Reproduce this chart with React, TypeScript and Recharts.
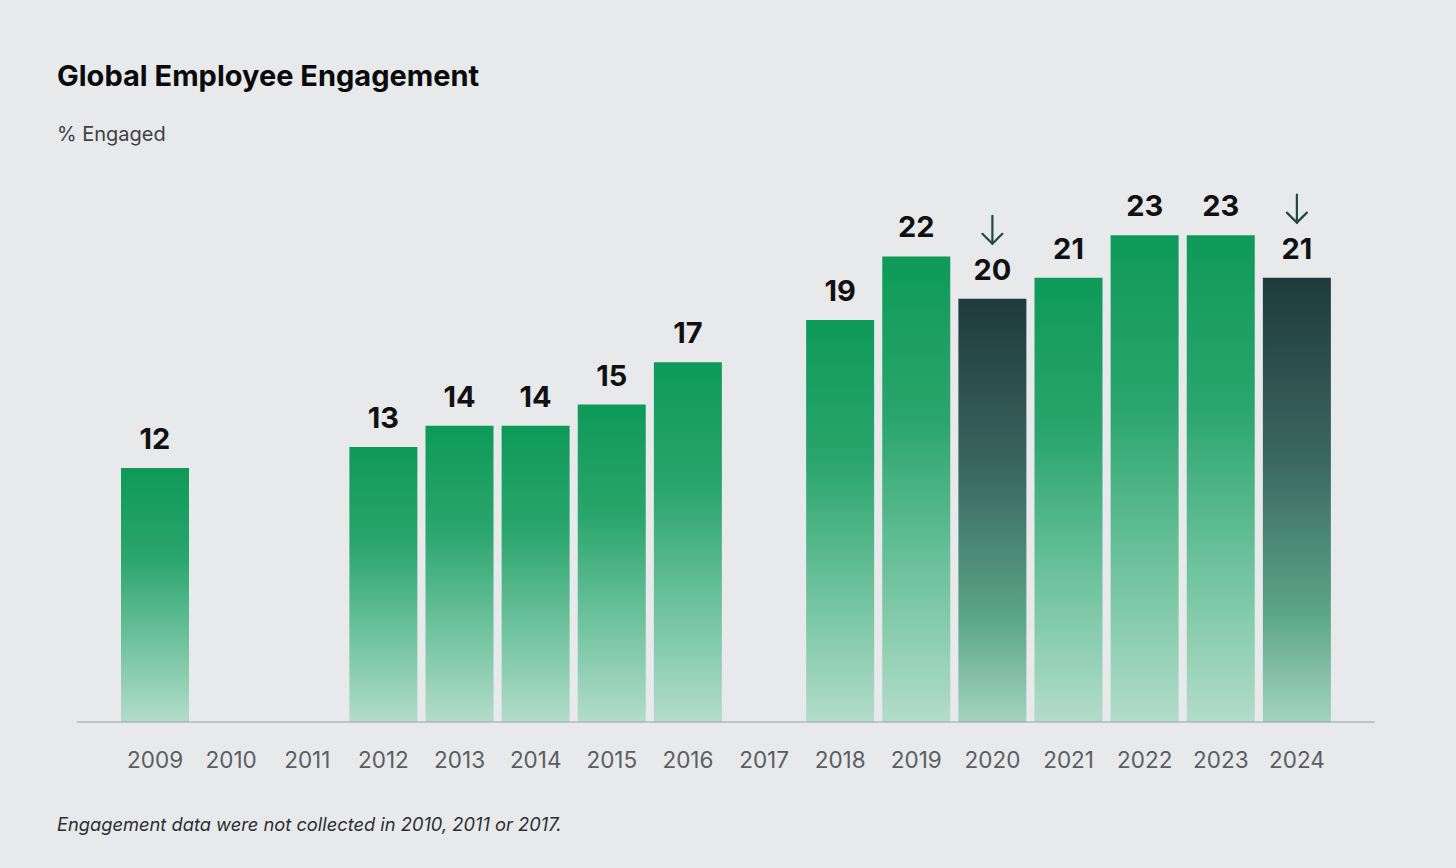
import React from "react";
import { BarChart, Bar, XAxis, YAxis, Cell, LabelList } from "recharts";

const years = [
  "2009", "2010", "2011", "2012", "2013", "2014", "2015", "2016",
  "2017", "2018", "2019", "2020", "2021", "2022", "2023", "2024",
];
const engaged: (number | null)[] = [
  12, null, null, 13, 14, 14, 15, 17, null, 19, 22, 20, 21, 23, 23, 21,
];
const declineYears = ["2020", "2024"];

const data = years.map((year, i) => ({
  year,
  engaged: engaged[i],
  arrow: declineYears.includes(year) ? engaged[i] : null,
}));

const FONT = "Inter, 'Noto Sans', sans-serif";

const YearTick = (props: any) => {
  const { x, y, payload } = props;
  return (
    <text
      x={x}
      y={y + 40}
      textAnchor="middle"
      dominantBaseline="middle"
      fill="#5a5e62"
      fontSize={22.5}
      fontFamily={FONT}
    >
      {payload.value}
    </text>
  );
};

const ValueLabel = (props: any) => {
  const { x, y, width, value } = props;
  if (value == null) return null;
  return (
    <text
      x={x + width / 2}
      y={y - 27}
      textAnchor="middle"
      dominantBaseline="middle"
      fill="#111"
      fontSize={29}
      fontWeight={700}
      fontFamily={FONT}
    >
      {value}
    </text>
  );
};

const DownArrow = (props: any) => {
  const { x, y, width, value } = props;
  if (value == null) return null;
  const cx = x + width / 2;
  return (
    <g stroke="#1f4a3e" strokeWidth={2.2} fill="none" strokeLinecap="round">
      <line x1={cx} y1={y - 83} x2={cx} y2={y - 55} />
      <polyline points={`${cx - 10},${y - 65} ${cx},${y - 55} ${cx + 10},${y - 65}`} />
    </g>
  );
};

export default function App() {
  return (
    <div
      style={{
        position: "absolute",
        left: 0,
        top: 0,
        width: 1456,
        height: 868,
        background: "#e8e9eb",
        fontFamily: FONT,
        overflow: "hidden",
      }}
    >
      <div
        style={{
          position: "absolute",
          left: 57,
          top: 58,
          fontSize: 29,
          fontWeight: 700,
          color: "#0a0a0a",
        }}
      >
        Global Employee Engagement
      </div>
      <div
        style={{
          position: "absolute",
          left: 57,
          top: 122,
          fontSize: 20,
          color: "#3d4145",
        }}
      >
        % Engaged
      </div>
      <div style={{ position: "absolute", left: 0, top: 0 }}>
        <BarChart
          width={1456}
          height={868}
          data={data}
          margin={{ top: 193, right: 81, bottom: 116, left: 77 }}
          barSize={68}
        >
          <defs>
            <linearGradient id="greenFill" x1="0" y1="0" x2="0" y2="1">
              <stop offset="0%" stopColor="#0e9a58" />
              <stop offset="35%" stopColor="#2aa56d" />
              <stop offset="70%" stopColor="#72c4a0" />
              <stop offset="100%" stopColor="#b3dccb" />
            </linearGradient>
            <linearGradient id="darkFill" x1="0" y1="0" x2="0" y2="1">
              <stop offset="0%" stopColor="#1f3a3b" />
              <stop offset="40%" stopColor="#3a6660" />
              <stop offset="75%" stopColor="#5aa587" />
              <stop offset="100%" stopColor="#a3d3be" />
            </linearGradient>
          </defs>
          <YAxis hide domain={[0, 25]} />
          <XAxis
            dataKey="year"
            padding={{ left: 40, right: 40 }}
            axisLine={{ stroke: "#9a9ea2", strokeWidth: 1.2 }}
            tickLine={false}
            tickSize={0}
            tickMargin={0}
            tick={<YearTick />}
            interval={0}
          />
          <Bar dataKey="engaged" isAnimationActive={false}>
            {data.map((d) => (
              <Cell
                key={d.year}
                fill={declineYears.includes(d.year) ? "url(#darkFill)" : "url(#greenFill)"}
              />
            ))}
            <LabelList dataKey="engaged" content={<ValueLabel />} />
            <LabelList dataKey="arrow" content={<DownArrow />} />
          </Bar>
        </BarChart>
      </div>
      <div
        style={{
          position: "absolute",
          left: 57,
          top: 813,
          fontSize: 18.3,
          fontStyle: "italic",
          color: "#2b2f33",
        }}
      >
        Engagement data were not collected in 2010, 2011 or 2017.
      </div>
    </div>
  );
}
